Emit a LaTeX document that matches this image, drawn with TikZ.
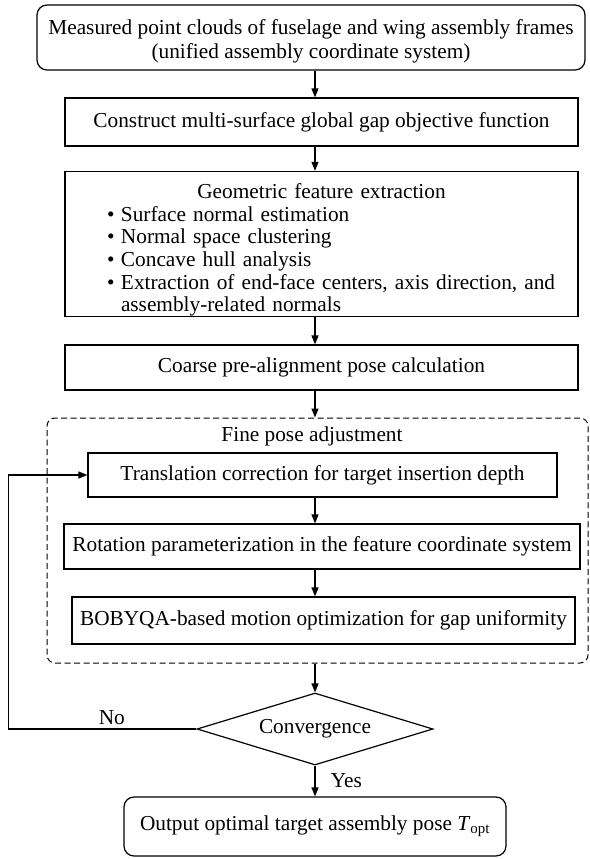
\documentclass[tikz,border=0pt]{standalone}
\usepackage{fontspec}
\setmainfont{Liberation Serif}
\usetikzlibrary{shapes.geometric, arrows.meta}

\begin{document}
\begin{tikzpicture}[x=1pt, y=-1pt,
    every node/.style={font=\fontsize{21.3}{22.7}\selectfont},
    box/.style={draw, line width=1.2pt, inner sep=0pt, align=center},
    rbox/.style={box, rounded corners=10pt},
    arrow/.style={-{Triangle[length=9pt, width=7pt]}, line width=1.2pt}]
    \useasboundingbox (0,0) rectangle (589,859);

    % Input and preparation steps
    \node[rbox, minimum width=548, minimum height=65, font=\fontsize{21.3}{24}\selectfont] (input) at (311,37.5)
        {\rule{0pt}{22pt}Measured point clouds of fuselage and wing assembly frames\\(unified assembly coordinate system)};
    \node[box, minimum width=513, minimum height=48] (objfun) at (321.5,122)
        {Construct multi-surface global gap objective function};
    \node[box, minimum width=513, minimum height=144, text width=513pt, align=left] (feature) at (321.5,244)
        {{\centering\rule{0pt}{27pt}Geometric feature extraction\par}
         \hspace*{42pt}\makebox[14pt][l]{\textbullet}Surface normal estimation\\
         \hspace*{42pt}\makebox[14pt][l]{\textbullet}Normal space clustering\\
         \hspace*{42pt}\makebox[14pt][l]{\textbullet}Concave hull analysis\\
         \hspace*{42pt}\makebox[14pt][l]{\textbullet}Extraction of end-face centers, axis direction, and\\
         \hspace*{56pt}assembly-related normals};
    \node[box, minimum width=513, minimum height=45] (coarse) at (321.5,367.5)
        {Coarse pre-alignment pose calculation};

    % Fine adjustment group
    \node[draw, dash pattern=on 6pt off 3.5pt, line width=1pt, rounded corners=8pt, minimum width=541, minimum height=245] (fine) at (317.5,540.5) {};
    \node (finetitle) at (312,436) {Fine pose adjustment};
    \node[box, minimum width=469, minimum height=44] (trans) at (322.5,475)
        {Translation correction for target insertion depth};
    \node[box, minimum width=516, minimum height=45] (rot) at (322,546.5)
        {Rotation parameterization in the feature coordinate system};
    \node[box, minimum width=503, minimum height=47] (bobyqa) at (323.5,620.5)
        {BOBYQA-based motion optimization for gap uniformity};

    % Decision and output
    \node[draw, diamond, aspect=3.28, line width=1.2pt, inner sep=0pt, minimum width=236, minimum height=72] (conv) at (315,729)
        {Convergence};
    \node[rbox, minimum width=382, minimum height=59] (output) at (315,826.5)
        {Output optimal target assembly pose \textit{T}\textsubscript{opt}};

    % Connectors
    \draw[arrow] (input.south -| conv) -- (objfun.north -| conv);
    \draw[arrow] (objfun.south -| conv) -- (feature.north -| conv);
    \draw[arrow] (feature.south -| conv) -- (coarse.north -| conv);
    \draw[arrow] (coarse.south -| conv) -- (fine.north -| conv);
    \draw[arrow] (trans.south -| conv) -- (rot.north -| conv);
    \draw[arrow] (rot.south -| conv) -- (bobyqa.north -| conv);
    \draw[arrow] (fine.south -| conv) -- (conv.north);
    \draw[arrow] (conv.south) -- node[right, xshift=12pt] (yes) {Yes} (output.north);
    \draw[arrow] (conv.west) -- node[above, pos=0.45] (no) {No} ++(-188,0) |- (trans.west);
\end{tikzpicture}
\end{document}
